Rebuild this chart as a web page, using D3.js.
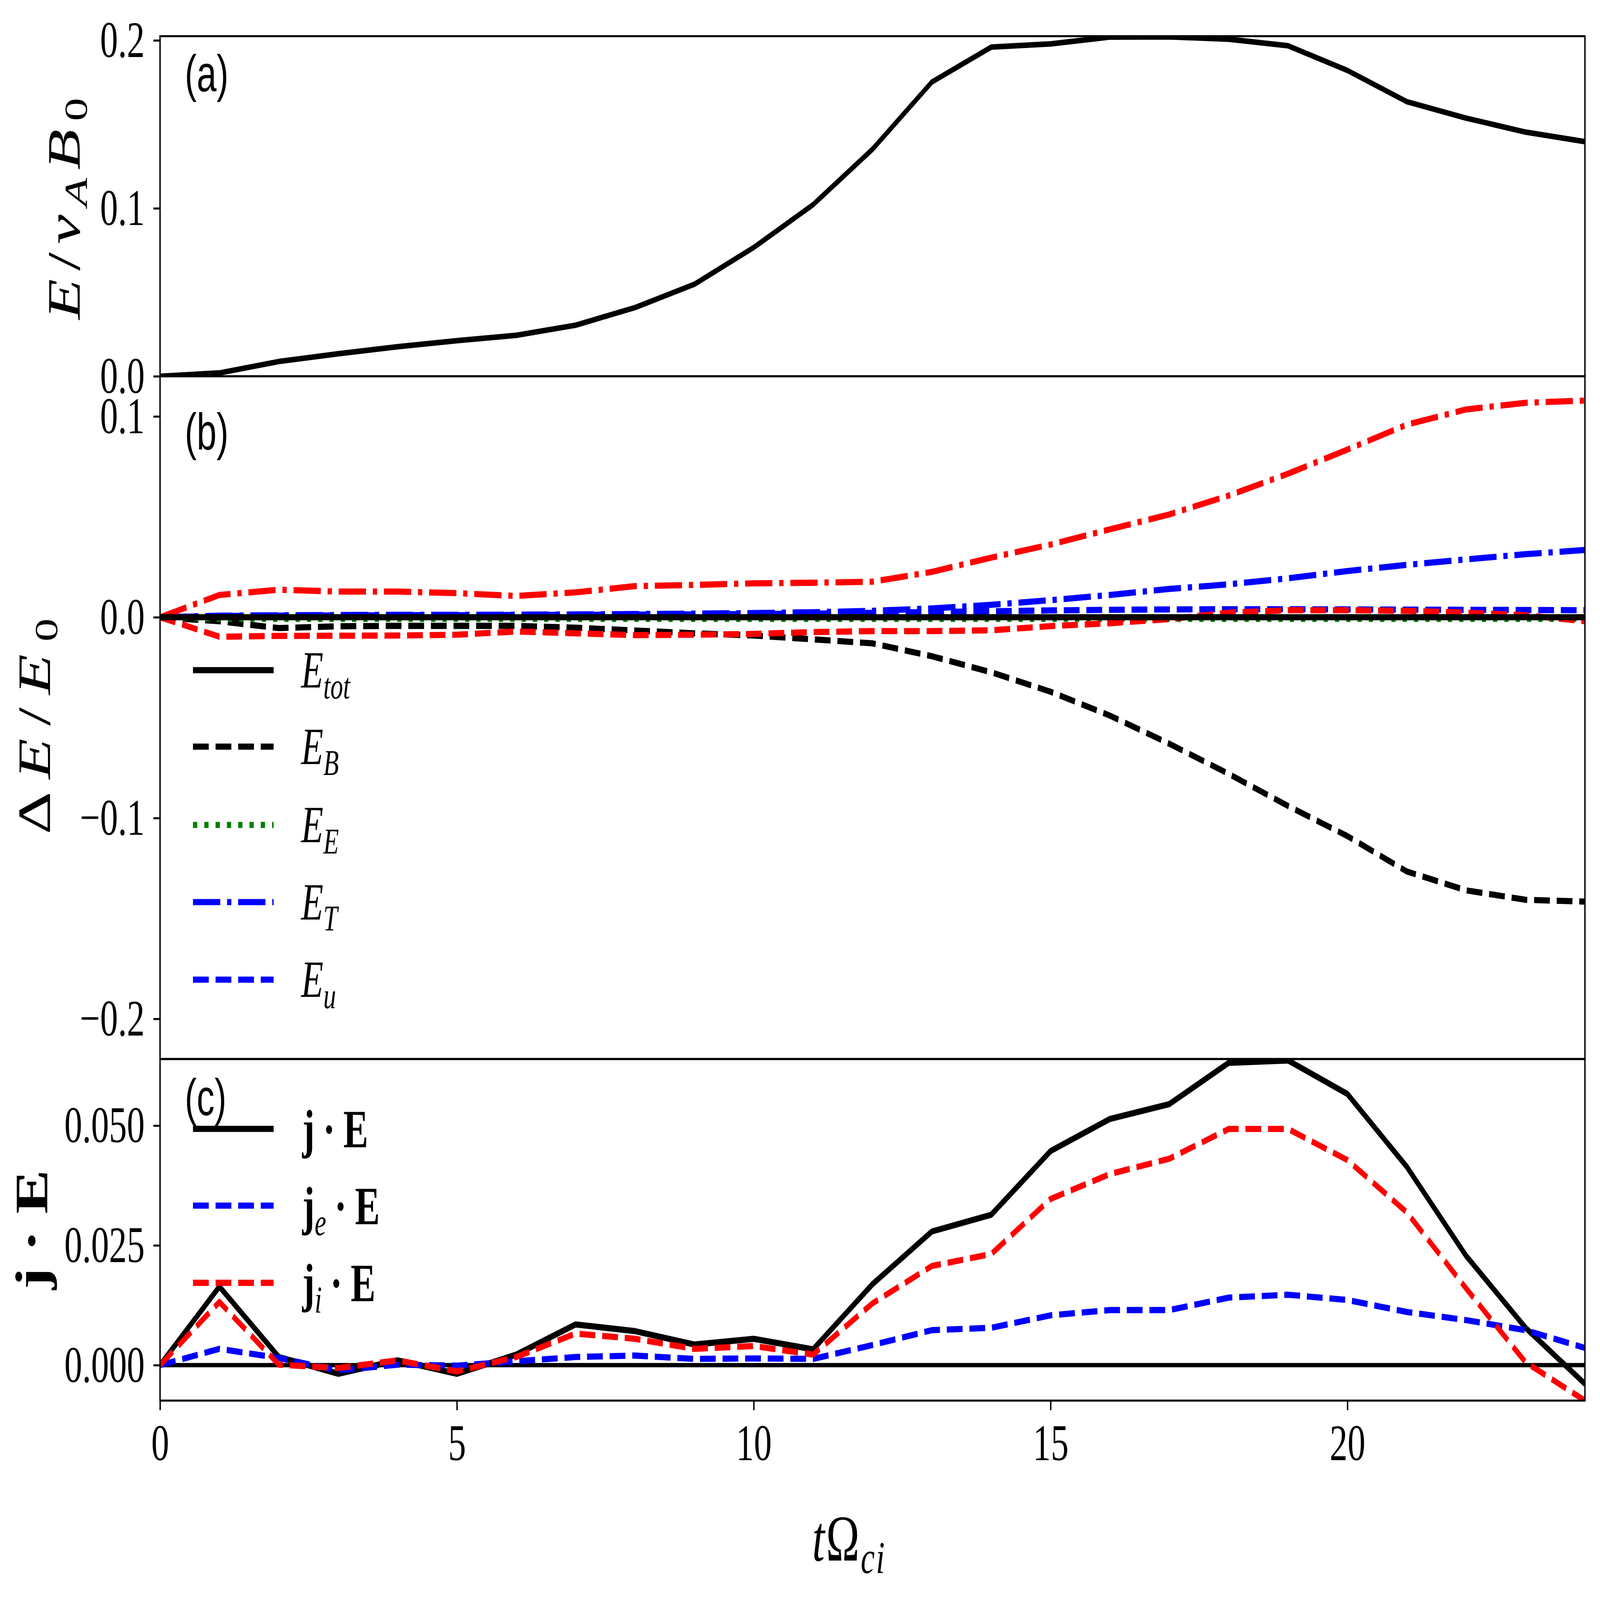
<!DOCTYPE html>
<html>
<head>
<meta charset="utf-8">
<script src="https://cdn.jsdelivr.net/npm/d3@7"></script>
<style>
  html, body { margin: 0; padding: 0; background: #fff; overflow: hidden; }
  #chart, #chart svg { display: block; width: 100vw; height: 100vh; }
</style>
</head>
<body>
<div id="chart"></div>
<script>
// time samples tΩci
const tVals = [0, 1, 2, 3, 4, 5, 6, 7, 8, 9, 10, 11, 12, 13, 14, 15, 16, 17, 18, 19, 20, 21, 22, 23, 24];

// (a) E / vA B0
const eField = [0, 0.0020, 0.0088, 0.0134, 0.0176, 0.0212, 0.0244, 0.0304, 0.0409, 0.0548, 0.0767, 0.1022,
  0.1352, 0.1752, 0.1960, 0.1979, 0.2020, 0.2021, 0.2007, 0.1968, 0.1821, 0.1635, 0.1537, 0.1454, 0.1397];

// (b) ΔE / E0
const eTot = [0, 0, 0, 0, 0, 0, 0, 0, 0, 0, 0, 0, 0, 0, 0, 0, 0, 0, 0, 0, 0, 0, 0, 0, 0];
const eB = [0, -0.0020, -0.0054, -0.0045, -0.0043, -0.0043, -0.0043, -0.0052, -0.0066, -0.0080, -0.0091, -0.0110,
  -0.0130, -0.0194, -0.0274, -0.0371, -0.0490, -0.0630, -0.0780, -0.0940, -0.1090, -0.1266, -0.1360, -0.1407, -0.1416];
const eE = [0, -0.0008, -0.0008, -0.0008, -0.0008, -0.0008, -0.0008, -0.0008, -0.0008, -0.0008, -0.0008, -0.0008,
  -0.0008, -0.0008, -0.0008, -0.0008, -0.0008, -0.0008, -0.0008, -0.0008, -0.0008, -0.0008, -0.0008, -0.0008, -0.0008];
const eT = [0, 0.0008, 0.0010, 0.0011, 0.0012, 0.0012, 0.0013, 0.0014, 0.0016, 0.0018, 0.0021, 0.0025,
  0.0032, 0.0044, 0.0062, 0.0085, 0.0111, 0.0141, 0.0164, 0.0194, 0.0230, 0.0261, 0.0288, 0.0314, 0.0335];
const eU = [0, 0.0006, 0.0008, 0.0009, 0.0010, 0.0010, 0.0011, 0.0012, 0.0013, 0.0014, 0.0016, 0.0018,
  0.0022, 0.0026, 0.0030, 0.0034, 0.0037, 0.0039, 0.0040, 0.0040, 0.0039, 0.0038, 0.0037, 0.0036, 0.0035];
const eIonT = [0, 0.0111, 0.0137, 0.0128, 0.0128, 0.0120, 0.0106, 0.0124, 0.0155, 0.0161, 0.0169, 0.0172,
  0.0177, 0.0226, 0.0297, 0.0362, 0.0438, 0.0512, 0.0606, 0.0715, 0.0835, 0.0959, 0.1035, 0.1068, 0.1079];
const eIonU = [0, -0.0097, -0.0093, -0.0092, -0.0091, -0.0087, -0.0071, -0.0080, -0.0089, -0.0087, -0.0083, -0.0074,
  -0.0069, -0.0069, -0.0065, -0.0044, -0.0030, -0.0009, 0.0023, 0.0035, 0.0035, 0.0032, 0.0023, 0.0010, -0.0020];

// (c) j·E
const jE = [0, 0.0164, 0.0017, -0.0018, 0.0010, -0.0018, 0.0022, 0.0085, 0.0071, 0.0043, 0.0055, 0.0033,
  0.0169, 0.0279, 0.0314, 0.0447, 0.0514, 0.0545, 0.0631, 0.0636, 0.0566, 0.0414, 0.0228, 0.0078, -0.0039];
const jeE = [0, 0.0034, 0.0015, -0.0011, 0.0001, -0.0001, 0.0008, 0.0017, 0.0020, 0.0013, 0.0014, 0.0013,
  0.0042, 0.0073, 0.0078, 0.0104, 0.0115, 0.0115, 0.0141, 0.0147, 0.0136, 0.0111, 0.0094, 0.0073, 0.0036];
const jiE = [0, 0.0132, 0.0001, -0.0006, 0.0010, -0.0013, 0.0017, 0.0066, 0.0055, 0.0034, 0.0040, 0.0022,
  0.0129, 0.0207, 0.0232, 0.0347, 0.0399, 0.0431, 0.0493, 0.0493, 0.0428, 0.0319, 0.0160, 0.0006, -0.0074];

// tick labels
const xTicks = [0, 5, 10, 15, 20];
const yTicksA = [0, 0.1, 0.2];
const yTicksB = [-0.2, -0.1, 0, 0.1];
const yTicksC = [0, 0.025, 0.05];

const W = 6268, H = 4333;
const X0 = 627, X1 = 6209;
const SERIF = "'Liberation Serif', 'DejaVu Serif', serif";
const SANS = "'Liberation Sans', 'DejaVu Sans', sans-serif";
const LW = 16.7;
const DASH = `${3.7 * LW},${1.6 * LW}`;
const DASHDOT = `${6.4 * LW},${1.6 * LW},${LW},${1.6 * LW}`;
const DOT = `${LW},${1.65 * LW}`;

// viewBox keeps the whole figure inside whatever viewport the browser gives
const svg = d3.select("#chart").append("svg")
  .attr("viewBox", [0, 0, W, H])
  .attr("preserveAspectRatio", "none");
svg.append("rect").attr("width", W).attr("height", H).attr("fill", "#fff");

const x = d3.scaleLinear().domain([0, 24]).range([X0, X1]);
const yA = d3.scaleLinear().domain([0, 0.2025]).range([1019, 98]);
const yB = d3.scaleLinear().domain([-0.22, 0.12]).range([2868, 1019]);
const yC = d3.scaleLinear().domain([-0.0074, 0.0639]).range([3793, 2868]);

// clip per panel
const defs = svg.append("defs");
[["clipA", yA], ["clipB", yB], ["clipC", yC]].forEach(([id, y]) => {
  const [b, t] = y.range();
  defs.append("clipPath").attr("id", id)
    .append("rect").attr("x", X0).attr("y", t).attr("width", X1 - X0).attr("height", b - t);
});

function drawSeries(clip, y, vals, color, dash, width) {
  const line = d3.line().x((d, i) => x(tVals[i])).y(d => y(d));
  svg.append("path")
    .attr("clip-path", `url(#${clip})`)
    .attr("d", line(vals))
    .attr("fill", "none")
    .attr("stroke", color)
    .attr("stroke-width", width || LW)
    .attr("stroke-linejoin", "round")
    .attr("stroke-dasharray", dash || null);
}

// (a)
drawSeries("clipA", yA, eField, "#000", null, 15);

// (b)
drawSeries("clipB", yB, eB, "#000", DASH);
drawSeries("clipB", yB, eE, "#008000", DOT);
drawSeries("clipB", yB, eT, "#0000ff", DASHDOT);
drawSeries("clipB", yB, eU, "#0000ff", DASH);
drawSeries("clipB", yB, eIonT, "#ff0000", DASHDOT);
drawSeries("clipB", yB, eIonU, "#ff0000", DASH);
drawSeries("clipB", yB, eTot, "#000", null);

// (c)
svg.append("line")
  .attr("x1", X0).attr("x2", X1).attr("y1", yC(0)).attr("y2", yC(0))
  .attr("stroke", "#000").attr("stroke-width", 11.5);
drawSeries("clipC", yC, jE, "#000", null);
drawSeries("clipC", yC, jeE, "#0000ff", DASH);
drawSeries("clipC", yC, jiE, "#ff0000", DASH);

// frames
[yA, yB, yC].forEach(y => {
  const [b, t] = y.range();
  svg.append("rect").attr("x", X0).attr("y", t).attr("width", X1 - X0).attr("height", b - t)
    .attr("fill", "none").attr("stroke", "#000").attr("stroke-width", 5.5);
});

// axes
function styleAxis(ax) {
  ax.attr("font-family", SERIF).attr("font-size", 140);
  ax.select(".domain").remove();
  ax.selectAll(".tick line").attr("stroke", "#000").attr("stroke-width", 5.5);
  ax.selectAll(".tick text").attr("fill", "#000");
}
const yAxes = [[yA, yTicksA, d3.format(".1f")], [yB, yTicksB, d3.format(".1f")], [yC, yTicksC, d3.format(".3f")]];
yAxes.forEach(([y, ticks, fmt]) => {
  const ax = svg.append("g").attr("transform", `translate(${X0},0)`)
    .call(d3.axisLeft(y).tickValues(ticks).tickFormat(fmt).tickSize(26).tickPadding(34));
  styleAxis(ax);
});
const axX = svg.append("g").attr("transform", `translate(0,${yC.range()[0]})`)
  .call(d3.axisBottom(x).tickValues(xTicks).tickFormat(d3.format("d")).tickSize(26).tickPadding(36));
styleAxis(axX);

// math-like text: parts = {t, i (italic), b (bold), k (size factor), dx, dy}
function mathText(parent, px, py, size, parts, opts = {}) {
  const t = parent.append("text")
    .attr("x", px).attr("y", py)
    .attr("font-family", SERIF).attr("font-size", size)
    .attr("fill", "#000")
    .attr("text-anchor", opts.anchor || "start");
  if (opts.transform) t.attr("transform", opts.transform).attr("x", 0).attr("y", 0);
  if (opts.length) t.attr("textLength", opts.length).attr("lengthAdjust", "spacing");
  parts.forEach(p => {
    const s = t.append("tspan").text(p.t)
      .attr("font-size", size * (p.k || 1))
      .attr("font-style", p.i ? "italic" : "normal")
      .attr("font-weight", p.b ? "bold" : "normal");
    if (p.dy) s.attr("dy", p.dy);
    if (p.dx) s.attr("dx", p.dx);
  });
  return t;
}

// axis labels
mathText(svg, 0, 0, 180, [
  { t: "E", i: true }, { t: "/" }, { t: "v", i: true },
  { t: "A", i: true, k: 0.7, dy: 28 }, { t: "B", i: true, dy: -28 }, { t: "0", k: 0.7, dy: 28 }
], { anchor: "middle", transform: "translate(312,565) rotate(-90)", length: 600 });

mathText(svg, 0, 0, 180, [
  { t: "Δ" }, { t: "E", i: true }, { t: "/" }, { t: "E", i: true }, { t: "0", k: 0.7, dy: 28 }
], { anchor: "middle", transform: "translate(196,1967) rotate(-90)", length: 585 });

mathText(svg, 0, 0, 180, [
  { t: "j", b: true }, { t: "·", b: true, dx: 30 }, { t: "E", b: true, dx: 30 }
], { anchor: "middle", transform: "translate(185,3330) rotate(-90)", length: 325 });

mathText(svg, 3182, 4226, 176, [
  { t: "t", i: true }, { t: "Ω" }, { t: "ci", i: true, k: 0.7, dy: 34 }
], { length: 284 });

// panel tags
const panelTags = ["(a)", "(b)", "(c)"];
const tagBaselines = [248, 1218, 3020];
panelTags.forEach((s, i) => {
  svg.append("text").attr("x", 724).attr("y", tagBaselines[i])
    .attr("font-family", SANS).attr("font-size", 140).attr("fill", "#000").text(s);
});

// legend (b)
const legendBSubs = ["tot", "B", "E", "T", "u"];
const legendBColors = ["#000", "#000", "#008000", "#0000ff", "#0000ff"];
const legendBDash = [null, DASH, DOT, DASHDOT, DASH];
const legendBRows = [1815, 2022, 2234, 2443, 2653];
legendBSubs.forEach((sub, i) => {
  const yy = legendBRows[i];
  svg.append("line").attr("x1", 756).attr("x2", 1072).attr("y1", yy).attr("y2", yy)
    .attr("stroke", legendBColors[i]).attr("stroke-width", LW)
    .attr("stroke-dasharray", legendBDash[i]);
  mathText(svg, 1180, yy + 47, 142, [
    { t: "E", i: true }, { t: sub, i: true, k: 0.7, dy: 30 }
  ]);
});

// legend (c)
const legendCSubs = ["", "e", "i"];
const legendCColors = ["#000", "#0000ff", "#ff0000"];
const legendCDash = [null, DASH, DASH];
const legendCRows = [3057, 3265, 3474];
legendCSubs.forEach((sub, i) => {
  const yy = legendCRows[i];
  svg.append("line").attr("x1", 756).attr("x2", 1072).attr("y1", yy).attr("y2", yy)
    .attr("stroke", legendCColors[i]).attr("stroke-width", LW)
    .attr("stroke-dasharray", legendCDash[i]);
  const parts = [{ t: "j", b: true }];
  if (sub) parts.push({ t: sub, i: true, k: 0.7, dy: 30 });
  parts.push({ t: "·", b: true, dx: 32, dy: sub ? -30 : 0 });
  parts.push({ t: "E", b: true, dx: 32 });
  mathText(svg, 1184, yy + 50, 146, parts);
});
</script>
</body>
</html>
